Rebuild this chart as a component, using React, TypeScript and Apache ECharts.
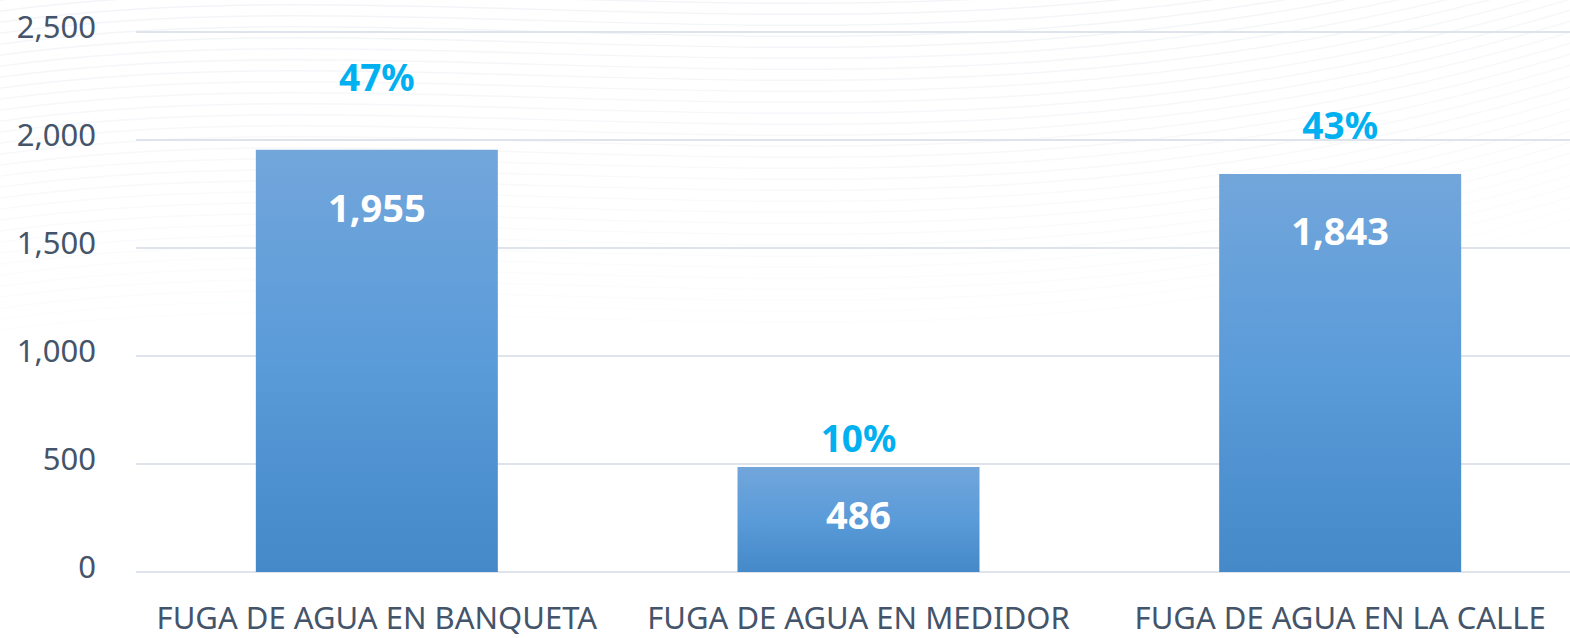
import React, { useEffect, useRef } from "react";
import * as echarts from "echarts";

const categories = ["FUGA DE AGUA EN BANQUETA", "FUGA DE AGUA EN MEDIDOR", "FUGA DE AGUA EN LA CALLE"];
const values = [1955, 486, 1843];
const percents = ["47%", "10%", "43%"];
const yTicks = { min: 0, max: 2500, interval: 500 };

// label styling (distances in px)
const pctDistance = [55, 11, 31];
const valDistance = [38, 28, 37];

const FONT = "'Noto Sans', 'Open Sans', sans-serif";

function waveLines() {
  const items: any[] = [];
  for (let k = 0; k < 34; k++) {
    const y = -60 + k * 11;
    const op = Math.max(0, 0.55 - k * 0.014);
    items.push({
      type: "bezierCurve",
      silent: true,
      z: -10,
      shape: {
        x1: -20, y1: y + 30,
        cpx1: 450, cpy1: y - 40,
        cpx2: 950, cpy2: y + 110,
        x2: 1590, y2: y - 90,
      },
      style: { stroke: "#e6e9f0", lineWidth: 1.4, fill: null, opacity: op },
    });
  }
  return items;
}

export default function App() {
  const ref = useRef<HTMLDivElement>(null);
  useEffect(() => {
    if (!ref.current) return;
    const chart = echarts.init(ref.current, null, { renderer: "svg" });
    const grad = new echarts.graphic.LinearGradient(0, 0, 0, 1, [
      { offset: 0, color: "#72a6db" },
      { offset: 0.5, color: "#5a9bd9" },
      { offset: 1, color: "#4589c8" },
    ]);
    chart.setOption({
      animation: false,
      backgroundColor: "#ffffff",
      graphic: waveLines(),
      grid: {
        left: 136,
        top: 32,
        height: 540,
        width: 1445,
        containLabel: false,
        outerBoundsMode: "none",
      },
      xAxis: {
        type: "category",
        data: categories,
        axisLine: { show: false },
        axisTick: { show: false },
        axisLabel: {
          color: "#44546a",
          fontFamily: FONT,
          fontSize: 31,
          lineHeight: 32,
          margin: 29,
          interval: 0,
        },
      },
      yAxis: {
        type: "value",
        min: yTicks.min,
        max: yTicks.max,
        interval: yTicks.interval,
        axisLine: { show: false },
        axisTick: { show: false },
        splitLine: { lineStyle: { color: "#dfe3ec", width: 2 } },
        axisLabel: {
          color: "#44546a",
          fontFamily: FONT,
          fontSize: 31,
          margin: 40,
          lineHeight: 12,
          verticalAlign: "bottom",
          formatter: (v: number) => v.toLocaleString("en-US"),
        },
      },
      series: [
        {
          type: "bar",
          barWidth: 242,
          data: values.map((v, i) => ({
            value: v,
            label: { distance: valDistance[i] },
          })),
          itemStyle: { color: grad },
          label: {
            show: true,
            position: "insideTop",
            color: "#ffffff",
            fontFamily: FONT,
            fontWeight: "bold",
            fontSize: 38,
            formatter: (p: any) => Number(p.value).toLocaleString("en-US"),
          },
          z: 2,
        },
        {
          type: "bar",
          barWidth: 242,
          barGap: "-100%",
          silent: true,
          itemStyle: { color: "rgba(0,0,0,0)" },
          data: values.map((v, i) => ({
            value: v,
            label: { distance: pctDistance[i], formatter: percents[i] },
          })),
          label: {
            show: true,
            position: "top",
            color: "#00b0f0",
            fontFamily: FONT,
            fontWeight: "bold",
            fontSize: 37,
          },
          z: 3,
        },
      ],
    });
    return () => chart.dispose();
  }, []);
  return (
    <div
      ref={ref}
      style={{ position: "absolute", left: 0, top: 0, width: 1570, height: 638 }}
    />
  );
}
